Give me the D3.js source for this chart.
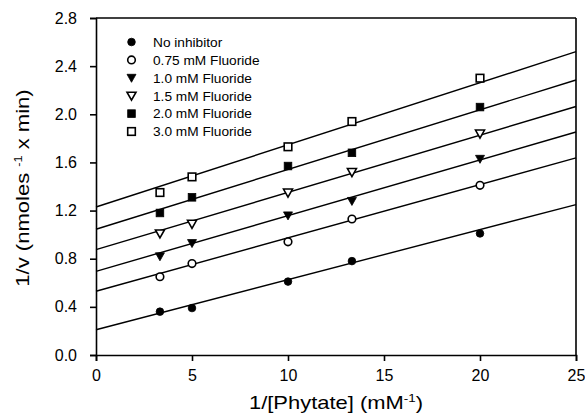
<!DOCTYPE html>
<html>
<head>
<meta charset="utf-8">
<script src="https://cdn.jsdelivr.net/npm/d3@7"></script>
<style>
  body { margin: 0; background: #fff; }
  text { font-family: "Liberation Sans", Arial, sans-serif; fill: #000; }
</style>
</head>
<body>
<div id="chart"></div>
<script>
// Lineweaver-Burk data
var xValues = [3.33, 5, 10, 13.33, 20];
var seriesNames = ["No inhibitor", "0.75 mM Fluoride", "1.0 mM Fluoride",
                   "1.5 mM Fluoride", "2.0 mM Fluoride", "3.0 mM Fluoride"];
var seriesSymbols = ["circleFilled", "circleOpen", "triDownFilled",
                     "triDownOpen", "squareFilled", "squareOpen"];
var seriesValues = [
  [0.36, 0.39, 0.61, 0.78, 1.01],
  [0.65, 0.76, 0.94, 1.13, 1.41],
  [0.82, 0.93, 1.16, 1.28, 1.63],
  [1.01, 1.09, 1.35, 1.52, 1.84],
  [1.18, 1.31, 1.57, 1.68, 2.06],
  [1.35, 1.48, 1.73, 1.94, 2.30]
];
// fitted lines: 1/v = intercept + slope * (1/[S])
var lineIntercepts = [0.21, 0.53, 0.695, 0.875, 1.045, 1.23];
var lineSlopes = [0.0416, 0.0443, 0.0463, 0.0476, 0.0496, 0.0516];
var xTicks = [0, 5, 10, 15, 20, 25];
var yTicks = [0.0, 0.4, 0.8, 1.2, 1.6, 2.0, 2.4, 2.8];

var width = 585, height = 419;
var margin = { top: 18, right: 9, bottom: 64, left: 96 };

var svg = d3.select("#chart").append("svg")
  .attr("width", width)
  .attr("height", height);

var x = d3.scaleLinear().domain([0, 25]).range([margin.left, width - margin.right]);
var y = d3.scaleLinear().domain([0, 2.8]).range([height - margin.bottom, margin.top]);

// axes
var xAxis = svg.append("g")
  .attr("transform", "translate(0," + y(0) + ")")
  .call(d3.axisBottom(x).tickValues(xTicks).tickSize(6).tickPadding(9).tickFormat(d3.format("d")));
var yAxis = svg.append("g")
  .attr("transform", "translate(" + x(0) + ",0)")
  .call(d3.axisLeft(y).tickValues(yTicks).tickSize(6).tickPadding(13).tickFormat(d3.format(".1f")));

[xAxis, yAxis].forEach(function(a) {
  a.selectAll("path, line").attr("stroke", "#000").attr("stroke-width", 1.6);
  a.selectAll("text").style("font-size", "16px").style("font-family", "Liberation Sans, Arial, sans-serif");
});

// frame on top and right
svg.append("line")
  .attr("x1", x(0)).attr("x2", x(25)).attr("y1", y(2.8)).attr("y2", y(2.8))
  .attr("stroke", "#000").attr("stroke-width", 1.6);
svg.append("line")
  .attr("x1", x(25)).attr("x2", x(25)).attr("y1", y(2.8)).attr("y2", y(0))
  .attr("stroke", "#000").attr("stroke-width", 1.6);

// regression lines
svg.append("g").selectAll("line")
  .data(lineIntercepts)
  .enter().append("line")
  .attr("x1", x(0))
  .attr("y1", function(d) { return y(d); })
  .attr("x2", x(25))
  .attr("y2", function(d, i) { return y(d + lineSlopes[i] * 25); })
  .attr("stroke", "#000")
  .attr("stroke-width", 1.4);

function drawSymbol(g, kind, cx, cy) {
  var filled = kind.indexOf("Filled") >= 0;
  var shape;
  if (kind.indexOf("circle") == 0) {
    shape = g.append("circle").attr("cx", cx).attr("cy", cy).attr("r", 3.8);
  } else if (kind.indexOf("square") == 0) {
    shape = g.append("rect").attr("x", cx - 3.8).attr("y", cy - 3.8).attr("width", 7.6).attr("height", 7.6);
  } else {
    shape = g.append("path")
      .attr("d", "M" + (cx - 4.5) + "," + (cy - 3.5) + "L" + (cx + 4.5) + "," + (cy - 3.5) + "L" + cx + "," + (cy + 4.5) + "Z");
  }
  shape.attr("fill", filled ? "#000" : "#fff")
    .attr("stroke", "#000")
    .attr("stroke-width", filled ? 0.8 : 1.6);
}

// data points
var points = svg.append("g");
seriesValues.forEach(function(vals, i) {
  vals.forEach(function(v, j) {
    drawSymbol(points, seriesSymbols[i], x(xValues[j]), y(v));
  });
});

// legend
var legend = svg.append("g");
seriesNames.forEach(function(name, i) {
  var ly = 42 + i * 17.9;
  drawSymbol(legend, seriesSymbols[i], 131.5, ly);
  legend.append("text")
    .attr("x", 153)
    .attr("y", ly + 4.8)
    .style("font-size", "13.7px")
    .text(name);
});

// axis titles (the scanned original is a bit wider than Arial, hence the x-stretch)
svg.append("text")
  .attr("transform", "translate(336,409) scale(1.22,1)")
  .attr("text-anchor", "middle")
  .style("font-size", "18px")
  .html('1/[Phytate] (mM<tspan dy="-7" font-size="11px">-1</tspan><tspan dy="7">)</tspan>');

svg.append("text")
  .attr("transform", "translate(29,188) rotate(-90) scale(1.16,1)")
  .attr("text-anchor", "middle")
  .style("font-size", "19px")
  .html('1/v (nmoles <tspan dy="-7" font-size="11px">-1</tspan><tspan dy="7"> x min)</tspan>');
</script>
</body>
</html>
